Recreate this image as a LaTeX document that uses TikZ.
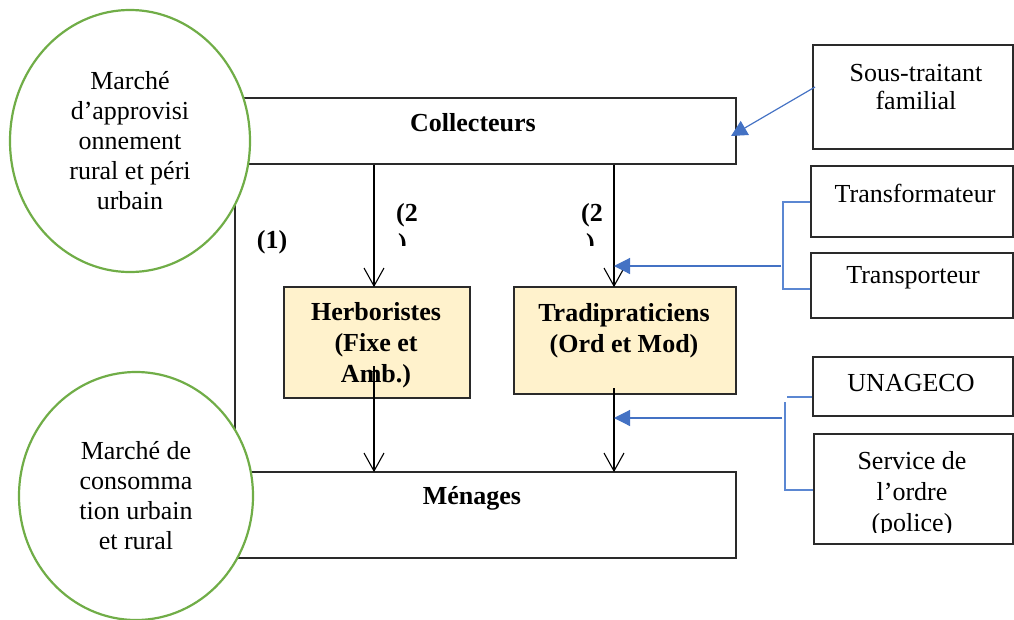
\documentclass[tikz,border=0pt]{standalone}
\usepackage{fontspec}
\setmainfont{Liberation Serif}
\usetikzlibrary{shapes.geometric,arrows.meta}
\definecolor{grn}{HTML}{70AD47}
\definecolor{blu}{HTML}{4472C4}
\definecolor{brk}{HTML}{5B87D2}
\definecolor{yel}{HTML}{FFF2CC}
\definecolor{edge}{HTML}{2A2A2A}
\begin{document}
\begin{tikzpicture}[x=1pt,y=-1pt,
  box/.style={draw=edge, line width=1.6pt, inner sep=0, anchor=north west},
  txt/.style={font=\fontsize{26}{30}\selectfont, align=center, inner sep=0},
  btxt/.style={font=\fontsize{26}{31}\selectfont\bfseries, align=center, inner sep=0},
  mkt/.style={ellipse, draw=grn, line width=2.2pt, fill=white, inner sep=0, font=\fontsize{26}{30}\selectfont, align=center},
  arr/.style={line width=1.1pt},
  vhead/.style={line width=1.1pt, line join=miter},
  barr/.style={blu, line width=1.2pt, -{Triangle[length=16pt,width=16pt]}},
  bl/.style={brk, line width=1.3pt}]
\useasboundingbox (0,0) rectangle (1014,619);

% boxes
\node[box, minimum width=500pt, minimum height=66pt] (collect) at (235,97) {};
\node[box, fill=yel, minimum width=186pt, minimum height=111pt] (herb) at (283,286) {};
\node[box, fill=yel, minimum width=222pt, minimum height=107pt] (tradi) at (513,286) {};
\node[box, minimum width=500pt, minimum height=86pt] (menag) at (235,471) {};
\node[box, minimum width=200pt, minimum height=104pt] (sous) at (812,44) {};
\node[box, minimum width=202pt, minimum height=71pt] (transf) at (810,165) {};
\node[box, minimum width=202pt, minimum height=65pt] (transp) at (810,252) {};
\node[box, minimum width=200pt, minimum height=59pt] (unag) at (812,356) {};
\node[box, minimum width=199pt, minimum height=110pt] (serv) at (813,433) {};

% texts
\node[btxt] (collecttxt) at (473,123) {Collecteurs};
\node[btxt] (herbtxt) at (376,345) {Herboristes\\(Fixe et\\Amb.)};
\node[btxt] (traditxt) at (624,331) {Tradipraticiens\\(Ord et Mod)};
\node[btxt] (menagtxt) at (472,498) {Ménages};
\node[txt, font=\fontsize{26}{28}\selectfont] (soustxt) at (916,87) {Sous-traitant\\familial};
\node[txt] (transftxt) at (915,193) {Transformateur};
\node[txt] (transptxt) at (913,278) {Transporteur};
\node[txt] (unagtxt) at (911,383) {UNAGECO};
\begin{scope}
  \clip (813,433) rectangle (1012,532);
  \node[txt, font=\fontsize{26}{31}\selectfont] (servtxt) at (912,494) {Service de\\l’ordre\\(police)};
\end{scope}

% labels
\node[btxt] (l1) at (272,242) {(1)};
\node[btxt, anchor=west] (l2a) at (396,215) {(2};
\node[btxt, anchor=west] (l2b) at (581,215) {(2};
\begin{scope}
  \clip (390,226) rectangle (425,245);
  \node[btxt, anchor=base west] (l2ac) at (398,251) {)};
\end{scope}
\begin{scope}
  \clip (575,226) rectangle (610,245);
  \node[btxt, anchor=base west] (l2bc) at (586,251) {)};
\end{scope}

% black connectors
\coordinate (hx) at (374,0);
\coordinate (tx) at (614,0);
\coordinate (hs) at (374,366);
\coordinate (ts) at (614,388);
\draw[edge, line width=1.5pt] (collect.south west) -- (menag.north west);
\draw[arr] (collect.south -| hx) -- (herb.north -| hx);
\draw[vhead] (herb.north -| hx) ++(-10,-18) -- ++(10,18) -- ++(10,-18);
\draw[arr] (collect.south -| tx) -- (tradi.north -| tx);
\draw[vhead] (tradi.north -| tx) ++(-10,-18) -- ++(10,18) -- ++(10,-18);
\draw[arr] (hs) -- (menag.north -| hx);
\draw[vhead] (menag.north -| hx) ++(-10,-18) -- ++(10,18) -- ++(10,-18);
\draw[arr] (ts) -- (menag.north -| tx);
\draw[vhead] (menag.north -| tx) ++(-10,-18) -- ++(10,18) -- ++(10,-18);

% blue connectors
\coordinate (st0) at (815,87);
\coordinate (st1) at (731,136);
\draw[barr] (st0) -- (st1);

\coordinate (j1) at (614,266);
\coordinate (j1s) at (781,266);
\coordinate (b1t) at (783,202);
\coordinate (b1b) at (783,289);
\draw[barr] (j1s) -- (j1);
\draw[bl] (transf.west |- b1t) -- (b1t) -- (b1b) -- (transp.west |- b1b);

\coordinate (j2) at (614,418);
\coordinate (j2s) at (782,418);
\coordinate (b2u) at (787,397);
\coordinate (b2t) at (785,402);
\coordinate (b2b) at (785,490);
\draw[barr] (j2s) -- (j2);
\draw[bl] (unag.west |- b2u) -- (b2u);
\draw[bl] (b2t) -- (b2b) -- (serv.west |- b2b);

% market ellipses
\node[mkt, minimum width=240pt, minimum height=262pt] (m1) at (130,141) {Marché\\d’approvisi\\onnement\\rural et péri\\urbain};
\node[mkt, minimum width=234pt, minimum height=248pt] (m2) at (136,496) {Marché de\\consomma\\tion urbain\\et rural};
\end{tikzpicture}
\end{document}
